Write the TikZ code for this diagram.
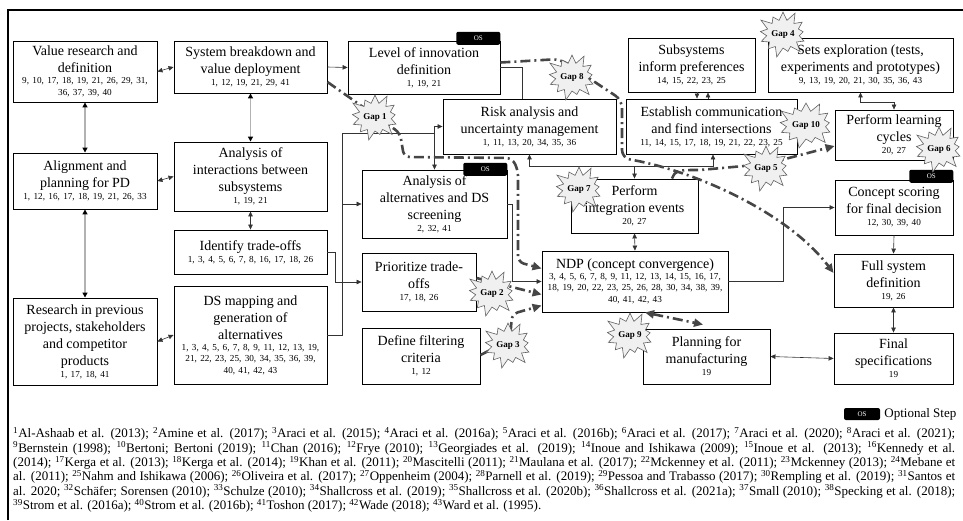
\documentclass[tikz,border=0pt]{standalone}
\usepackage{fontspec}
\setmainfont{Liberation Serif}
\usetikzlibrary{arrows.meta,shapes.symbols}
\newcommand\ttl{\fontsize{14}{17}\selectfont}
\newcommand\rfs{\par\fontsize{9.2}{11}\selectfont}
\begin{document}
\begin{tikzpicture}[x=1pt,y=-1pt]
% styles
\tikzset{pbox/.style={draw, line width=0.9pt, align=center, inner sep=1pt},
  ostag/.style={fill=black, rounded corners=2pt, minimum width=44pt, minimum height=13pt, inner sep=0pt, text=white, font=\fontsize{7}{8}\selectfont},
  gapstar/.style={starburst, starburst points=13, starburst point height=11pt, draw=gray!75!black, fill=gray!12, line width=0.6pt, inner xsep=0pt, inner ysep=6pt, font=\bfseries\fontsize{9}{10}\selectfont},
  line/.style={draw=black!80, line width=0.6pt},
  conn/.style={line, -{Triangle[length=5pt,width=4.5pt]}},
  dbl/.style={line, {Triangle[length=5pt,width=4.5pt]}-{Triangle[length=5pt,width=4.5pt]}},
  gdbl/.style={draw=gray!60, line width=1.3pt, {Triangle[length=5pt,width=5pt,black]}-{Triangle[length=5pt,width=5pt,black]}},
  gline/.style={draw=gray!55!black, line width=2.6pt, dash pattern=on 10pt off 4pt on 2pt off 4pt, -{Triangle[length=9pt,width=8pt]}}}

\useasboundingbox (0,0) rectangle (963,520);

% ----- frame -----
\draw[line width=2.8pt] (8,520) -- (8,10) -- (963,10);

% ===== left columns =====
\node[pbox, minimum width=144pt, minimum height=61pt, text width=140pt] (valres) at (85,71.5)
  {\ttl Value research and\\definition\rfs 9, 10, 17, 18, 19, 21, 26, 29, 31,\\36, 37, 39, 40};
\node[pbox, minimum width=144pt, minimum height=56pt, text width=140pt] (align) at (85,181)
  {\ttl Alignment and\\planning for PD\rfs 1, 12, 16, 17, 18, 19, 21, 26, 33};
\node[pbox, minimum width=144pt, minimum height=87pt, text width=140pt] (research) at (85,341.5)
  {\ttl Research in previous\\projects, stakeholders\\and competitor\\products\rfs 1, 17, 18, 41};

\node[pbox, minimum width=153pt, minimum height=52pt, text width=149pt] (sysbrk) at (250.5,67)
  {\ttl System breakdown and\\value deployment\rfs 1, 12, 19, 21, 29, 41};
\node[pbox, minimum width=153pt, minimum height=69pt, text width=149pt] (interact) at (250.5,176.5)
  {\ttl Analysis of\\interactions between\\subsystems\rfs 1, 19, 21};
\node[pbox, minimum width=153pt, minimum height=44pt, text width=149pt] (tradeoff) at (250.5,252)
  {\ttl Identify trade-offs\rfs 1, 3, 4, 5, 6, 7, 8, 16, 17, 18, 26};
\node[pbox, minimum width=153pt, minimum height=98pt, text width=149pt] (dsmap) at (250.5,335)
  {\ttl DS mapping and\\generation of\\alternatives\rfs 1, 3, 4, 5, 6, 7, 8, 9, 11, 12, 13, 19,\\21, 22, 23, 25, 30, 34, 35, 36, 39,\\40, 41, 42, 43};

% ===== middle =====
\node[pbox, minimum width=152pt, minimum height=53pt, text width=148pt] (innov) at (424,67.5)
  {\ttl Level of innovation\\definition\rfs 1, 19, 21};
\node[pbox, minimum width=173pt, minimum height=55pt, text width=169pt] (risk) at (529.5,126.5)
  {\ttl Risk analysis and\\uncertainty management\rfs 1, 11, 13, 20, 34, 35, 36};
\node[pbox, minimum width=145pt, minimum height=68pt, text width=141pt] (altern) at (434.5,204)
  {\ttl Analysis of\\alternatives and DS\\screening\rfs 2, 32, 41};
\node[pbox, minimum width=114pt, minimum height=58pt, text width=110pt] (prior) at (419,282)
  {\ttl Prioritize trade-\\offs\rfs 17, 18, 26};
\node[pbox, minimum width=118pt, minimum height=56pt, text width=114pt] (filter) at (421,356)
  {\ttl Define filtering\\criteria\rfs 1, 12};
\node[pbox, minimum width=186pt, minimum height=61pt, text width=182pt] (ndp) at (635,281.5)
  {\ttl NDP (concept convergence)\rfs 3, 4, 5, 6, 7, 8, 9, 11, 12, 13, 14, 15, 16, 17,\\18, 19, 20, 22, 23, 25, 26, 28, 30, 34, 38, 39,\\40, 41, 42, 43};
\node[pbox, minimum width=127pt, minimum height=54pt, text width=123pt] (integ) at (634.5,206)
  {\ttl Perform\\integration events\rfs 20, 27};

% ===== right =====
\node[pbox, minimum width=127pt, minimum height=54pt, text width=123pt] (subsys) at (691.5,65)
  {\ttl Subsystems\\inform preferences\rfs 14, 15, 22, 23, 25};
\node[pbox, minimum width=171pt, minimum height=55pt, text width=167pt] (comm) at (711.5,126.5)
  {\ttl Establish communication\\and find intersections\rfs 11, 14, 15, 17, 18, 19, 21, 22, 23, 25};
\node[pbox, minimum width=185pt, minimum height=54pt, text width=181pt] (sets) at (860.5,65)
  {\ttl Sets exploration (tests,\\experiments and prototypes)\rfs 9, 13, 19, 20, 21, 30, 35, 36, 43};
\node[pbox, minimum width=118pt, minimum height=50pt, text width=114pt] (learn) at (894,135)
  {\ttl Perform learning\\cycles\rfs 20, 27};
\node[pbox, minimum width=118pt, minimum height=55pt, text width=114pt] (scoring) at (894,207.5)
  {\ttl Concept scoring\\for final decision\rfs 12, 30, 39, 40};
\node[pbox, minimum width=119pt, minimum height=53pt, text width=115pt] (fullsys) at (893.5,280.5)
  {\ttl Full system\\definition\rfs 19, 26};
\node[pbox, minimum width=119pt, minimum height=51pt, text width=115pt] (finalspec) at (893.5,358.5)
  {\ttl Final\\specifications\rfs 19};
\node[pbox, minimum width=127pt, minimum height=55pt, text width=123pt] (manuf) at (706.5,356.5)
  {\ttl Planning for\\manufacturing\rfs 19};

% optional steps
\node[ostag, anchor=north east] (innovos) at ([yshift=9pt]innov.north east) {OS};
\node[ostag, anchor=north east] (alternos) at ([yshift=7pt]altern.north east) {OS};
\node[ostag, anchor=north east] (scoringos) at ([yshift=10pt]scoring.north east) {OS};

% ----- connectors -----
\draw[dbl] (valres.east) -- (sysbrk.west);
\draw[dbl] (align.east) -- (interact.west);
\draw[dbl] (research.east) -- (dsmap.west);
\draw[gdbl] (valres.south) -- (align.north);
\draw[gdbl] (align.south) -- (research.north);
\draw[gdbl] (sysbrk.south) -- (interact.north);
\draw[dbl] (interact.south) -- (tradeoff.north);
\draw[conn] (sysbrk.east) -- (innov.west);
\draw[line] (innov.east) -| ([xshift=-7.5pt]risk.north);
\draw[conn] (tradeoff.east) -- ++(8,0) |- (prior.west);
\draw[conn] (dsmap.east) -- ++(15,0) |- (altern.west);
\coordinate (split) at (434.5,133);
\draw[line] ([xshift=15pt]dsmap.east) |- (split);
\draw[dbl] (risk.west) -| (altern.north);
\draw[conn] (altern.east) -- ++(5,0) |- (ndp.west);
\draw[dbl] (ndp.north) -- (integ.south);
\coordinate (bus) at (634.5,166);
\draw[conn] (bus) -- (integ.north);
\draw[conn] (bus) -| (risk.south);
\draw[conn] (bus) -| ([xshift=1.5pt]comm.south);
\draw[conn] ([xshift=5.5pt]subsys.south) -- ([xshift=-14.5pt]comm.north);
\draw[conn] ([xshift=-3.5pt]comm.north) -- ([xshift=16.5pt]subsys.south);
\draw[dbl] (sets.south) -- ++(0,10) -| (learn.north);
\draw[conn] (ndp.east) -- ++(55,0) |- (scoring.west);
\draw[conn] (scoring.south) -- (fullsys.north);
\draw[dbl] (fullsys.south) -- (finalspec.north);
\draw[dbl] (manuf.east) -- (finalspec.west);

% ----- gap lines -----
\draw[gline, rounded corners=6pt] ([yshift=-15pt]sysbrk.east) -- (400,133) -- (404,157) -- (512,158) -- (518,170) -- (518,262) -- ([yshift=13pt]ndp.west);
\draw[gline] ([yshift=4pt]prior.east) -- ([yshift=-13pt]ndp.west);
\draw[gline, rounded corners=6pt] ([yshift=1pt]filter.east) -- (510,340) -- (512,314) -- ([yshift=-24pt]ndp.west);
\draw[gline, rounded corners=8pt] ([yshift=5pt]innov.east) -- (560,59) -- (622,100) -- (622,158) .. controls (700,172) and (790,215) .. ([yshift=7.5pt]fullsys.west);
\draw[gline] ([xshift=37.5pt]integ.north) .. controls (676,170) .. (700,170) -- (766,164) -- ([yshift=-11pt]learn.west);
\draw[gline, {Triangle[length=9pt,width=8pt]}-{Triangle[length=9pt,width=8pt]}] ([xshift=10pt]ndp.south) -- ([xshift=-3.5pt,yshift=4pt]manuf.north);

% ----- gaps -----
\node[gapstar] (gap1) at (375,117) {Gap 1};
\node[gapstar] (gap2) at (492,293) {Gap 2};
\node[gapstar] (gap3) at (508,345) {Gap 3};
\node[gapstar] (gap4) at (783,34) {Gap 4};
\node[gapstar] (gap5) at (766,168) {Gap 5};
\node[gapstar] (gap6) at (939,149) {Gap 6};
\node[gapstar] (gap7) at (579,189) {Gap 7};
\node[gapstar] (gap8) at (572,77) {Gap 8};
\node[gapstar] (gap9) at (630,335) {Gap 9};
\node[gapstar] (gap10) at (806,125) {Gap 10};

% ----- legend & references -----
\node[ostag, minimum width=36pt, minimum height=12pt] (legos) at (862,414) {OS};
\node[anchor=west, inner sep=0pt, font=\fontsize{13}{15}\selectfont] (legtxt) at ([xshift=4pt]legos.east) {Optional Step};
\node[anchor=north west, inner sep=0pt, text width=942pt, align=justify, font=\fontsize{13}{14.4}\selectfont] (notes) at (13,427)
  {\textsuperscript{1}Al-Ashaab et al. (2013); \textsuperscript{2}Amine et al. (2017); \textsuperscript{3}Araci et al. (2015); \textsuperscript{4}Araci et al. (2016a); \textsuperscript{5}Araci et al. (2016b); \textsuperscript{6}Araci et al. (2017); \textsuperscript{7}Araci et al. (2020); \textsuperscript{8}Araci et al. (2021);\linebreak
  \textsuperscript{9}Bernstein (1998); \textsuperscript{10}Bertoni; Bertoni (2019); \textsuperscript{11}Chan (2016); \textsuperscript{12}Frye (2010); \textsuperscript{13}Georgiades et al. (2019); \textsuperscript{14}Inoue and Ishikawa (2009); \textsuperscript{15}Inoue et al. (2013); \textsuperscript{16}Kennedy et al.\linebreak
  (2014); \textsuperscript{17}Kerga et al. (2013); \textsuperscript{18}Kerga et al. (2014); \textsuperscript{19}Khan et al. (2011); \textsuperscript{20}Mascitelli (2011); \textsuperscript{21}Maulana et al. (2017); \textsuperscript{22}Mckenney et al. (2011); \textsuperscript{23}Mckenney (2013); \textsuperscript{24}Mebane et\linebreak
  al. (2011); \textsuperscript{25}Nahm and Ishikawa (2006); \textsuperscript{26}Oliveira et al. (2017); \textsuperscript{27}Oppenheim (2004); \textsuperscript{28}Parnell et al. (2019); \textsuperscript{29}Pessoa and Trabasso (2017); \textsuperscript{30}Rempling et al. (2019); \textsuperscript{31}Santos et\linebreak
  al. 2020; \textsuperscript{32}Schäfer; Sorensen (2010); \textsuperscript{33}Schulze (2010); \textsuperscript{34}Shallcross et al. (2019); \textsuperscript{35}Shallcross et al. (2020b); \textsuperscript{36}Shallcross et al. (2021a); \textsuperscript{37}Small (2010); \textsuperscript{38}Specking et al. (2018);\linebreak
  \textsuperscript{39}Strom et al. (2016a); \textsuperscript{40}Strom et al. (2016b); \textsuperscript{41}Toshon (2017); \textsuperscript{42}Wade (2018); \textsuperscript{43}Ward et al. (1995).};
\end{tikzpicture}
\end{document}
